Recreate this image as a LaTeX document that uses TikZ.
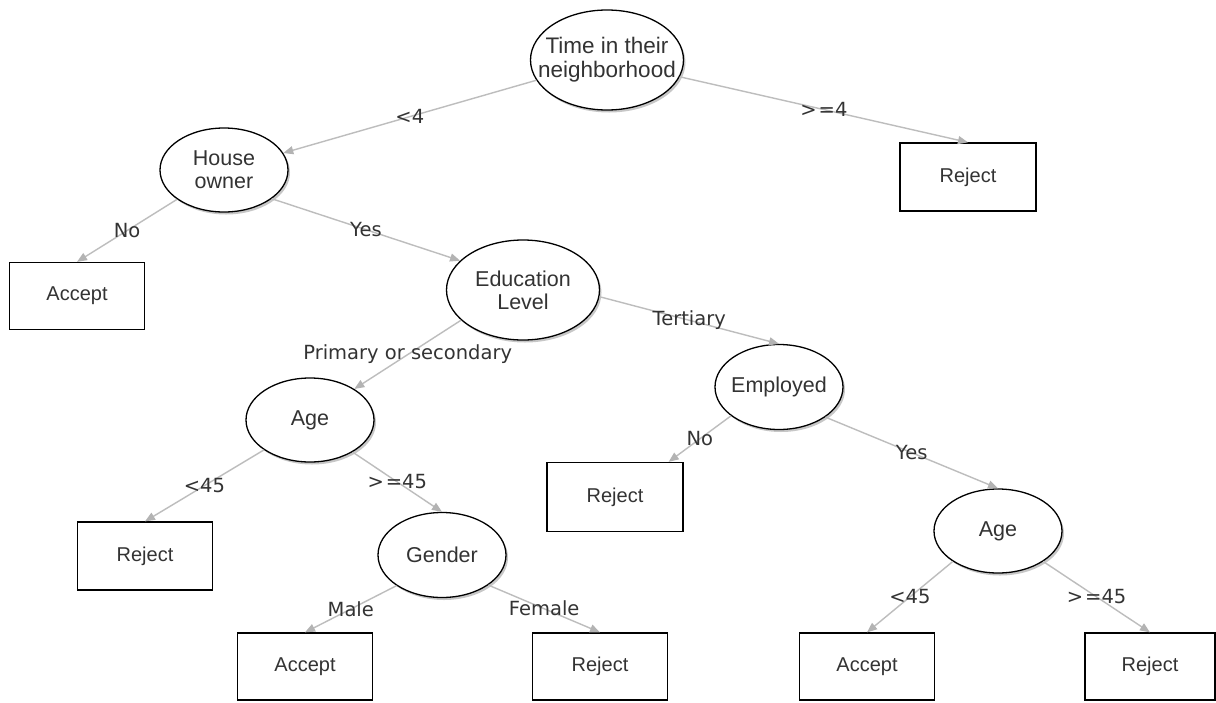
\documentclass[tikz,border=0pt]{standalone}
\usepackage{fontspec}
\setmainfont{Liberation Sans}
\newfontfamily\edgefont{DejaVu Sans}
\usetikzlibrary{arrows.meta,shapes.geometric,shadows}
\definecolor{txt}{HTML}{333333}
\definecolor{edgegray}{HTML}{BDBDBD}
\definecolor{tipgray}{HTML}{B3B3B3}

\begin{document}
\begin{tikzpicture}[x=1pt,y=-1pt,
  decision/.style={ellipse, draw=black, line width=1.3pt, fill=white, inner sep=0pt,
    minimum width=128pt, minimum height=84pt,
    drop shadow={shadow xshift=2pt, shadow yshift=-2.5pt, opacity=0.22, fill=black}},
  dtext/.style={text=txt, align=center, inner sep=0pt, font=\fontsize{21.5}{23}\selectfont},
  outcome/.style={rectangle, draw=black, line width=1.3pt, fill=white, inner sep=0pt,
    minimum width=135pt, minimum height=67pt, text=txt, font=\fontsize{20}{22}\selectfont},
  branch/.style={draw=edgegray, line width=1.4pt,
    -{Triangle[length=10pt,width=8pt,fill=tipgray,color=tipgray]}},
  cond/.style={midway, text=txt, inner sep=0pt, font=\edgefont\fontsize{19.5}{21}\selectfont},
]
% canvas
\fill[white] (0,0) rectangle (1216,702);
\useasboundingbox (0,0) rectangle (1216,702);

% decision nodes and outcomes
\node[decision, minimum width=153pt, minimum height=100pt,
  label={[dtext, font=\fontsize{22.5}{24}\selectfont]center:{Time in their\\neighborhood}}] (time) at (607,60) {};
\node[outcome, minimum width=136pt, minimum height=68pt] (rejTop) at (968,177) {Reject};

\node[decision, label={[dtext]center:{House\\owner}}] (house) at (224,170) {};
\node[outcome] (accHouse) at (77,296) {Accept};

\node[decision, minimum width=153pt, minimum height=100pt,
  label={[dtext]center:{Education\\Level}}] (edu) at (523,290) {};

\node[decision, minimum height=85pt, label={[dtext]center:Employed}] (emp) at (779,387) {};
\node[outcome, minimum width=136pt, minimum height=69pt] (rejEmp) at (615,497) {Reject};

\node[decision, label={[dtext]center:Age}] (ageL) at (310,420) {};
\node[outcome, minimum height=68pt] (rejYoung) at (145,556) {Reject};

\node[decision, minimum height=85pt, label={[dtext]center:Gender}] (gender) at (442,555) {};
\node[outcome] (accMale) at (305,666.5) {Accept};
\node[outcome] (rejFemale) at (600,666.5) {Reject};

\node[decision, label={[dtext]center:Age}] (ageR) at (998,531) {};
\node[outcome] (accYoung) at (867,666.5) {Accept};
\node[outcome, minimum width=130pt] (rejOld) at (1150,666.5) {Reject};

% branches
\draw[branch] (time.196) -- node[cond]{<4} (house.16);
\draw[branch] (time.347) -- node[cond]{>\kern2pt=4} (rejTop.north);
\draw[branch] (house.212) -- node[cond]{No} (accHouse.north);
\draw[branch] (house.329) -- node[cond]{Yes} (edu.155);
\draw[branch] (edu.206) -- node[cond]{Primary or secondary} (ageL.35);
\draw[branch] (edu.355) -- node[cond]{Tertiary} (emp.north);
\draw[branch] (emp.211) -- node[cond]{No} ([xshift=-15pt]rejEmp.north east);
\draw[branch] (emp.327) -- node[cond]{Yes} (ageR.north);
\draw[branch] (ageL.213) -- node[cond]{<45} (rejYoung.north);
\draw[branch] (ageL.323) -- node[cond]{>\kern2pt=45} (gender.north);
\draw[branch] (gender.214) -- node[cond]{Male} (accMale.north);
\draw[branch] (gender.327) -- node[cond]{Female} (rejFemale.north);
\draw[branch] (ageR.214) -- node[cond]{<45} (accYoung.north);
\draw[branch] (ageR.326) -- node[cond]{>\kern2pt=45} (rejOld.north);
\end{tikzpicture}
\end{document}
